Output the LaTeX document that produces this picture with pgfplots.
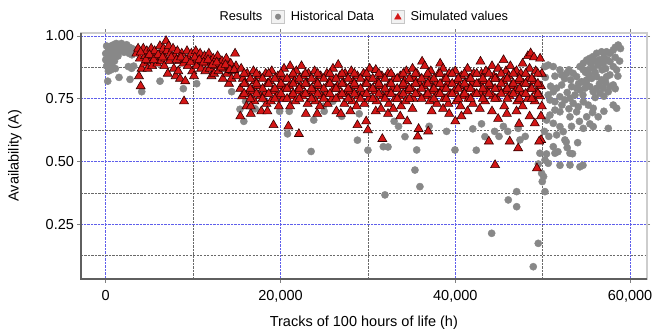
\documentclass[border=0pt]{standalone}
\usepackage{fontspec}
\setmainfont{Liberation Sans}
\usepackage{pgfplots}
\pgfplotsset{compat=1.18}

\definecolor{histgray}{RGB}{136,136,136}
\definecolor{simred}{RGB}{212,22,22}
\definecolor{simedge}{RGB}{50,0,0}
\definecolor{majgrid}{RGB}{95,95,235}
\definecolor{mingrid}{RGB}{105,105,105}
\definecolor{frameD}{RGB}{95,95,95}
\definecolor{frameL}{RGB}{205,205,205}

\begin{document}
\begin{tikzpicture}
\useasboundingbox (-81pt,-54pt) rectangle (571pt,279pt);
\begin{axis}[
  at={(0pt,0pt)}, anchor=south west,
  scale only axis, width=565.7pt, height=246.3pt,
  xmin=-2830, xmax=61900, ymin=0.032, ymax=1.013,
  scaled x ticks=false, scaled y ticks=false,
  xtick={0,20000,40000,60000},
  xticklabels={0,{20,000},{40,000},{60,000}},
  ytick={0.25,0.5,0.75,1},
  yticklabels={0.25,0.50,0.75,1.00},
  minor xtick={10000,30000,50000},
  minor ytick={0.125,0.375,0.625,0.875},
  grid=both,
  major grid style={draw=majgrid, densely dotted, line width=0.8pt},
  minor grid style={draw=mingrid, dash pattern=on 2.2pt off 1.3pt, line width=0.6pt},
  tick align=outside, major tick length=3.5pt, minor tick length=0pt,
  major tick style={draw=gray, line width=0.8pt},
  axis line style={draw=frameL, line width=1.6pt},
  ticklabel style={font=\fontsize{14.5}{16}\selectfont},
  xticklabel style={yshift=-4pt},
  every axis x label/.style={at={(axis description cs:0.5,-0.1786)}, anchor=center,
    font=\fontsize{14.5}{16}\selectfont},
  every axis y label/.style={at={(axis description cs:-0.1167,0.5)}, anchor=center, rotate=90,
    font=\fontsize{14.5}{16}\selectfont},
  xlabel={Tracks of 100 hours of life (h)},
  ylabel={Availability (A)},
  clip mode=individual,
  legend columns=-1,
  legend style={at={(0.5,1)}, anchor=south, xshift=-3pt, yshift=9pt, draw=none, fill=none,
    font=\fontsize{12.8}{14}\selectfont, inner sep=0pt,
    nodes={inner sep=0pt},
    /tikz/every odd column/.append style={column sep=6pt},
    /tikz/every even column/.append style={column sep=9pt}},
]

\addlegendimage{empty legend}
\addlegendentry{Results}
\addlegendimage{legend image code/.code={%
    \draw[draw=gray!45, fill=gray!10, line width=0.6pt] (0pt,-6.5pt) rectangle (13pt,6.5pt);
    \draw[histgray, mark=*, mark size=2.8pt, mark options={draw=histgray, fill=histgray}]
      plot coordinates {(6.5pt,0pt)};}}
\addlegendentry{Historical Data\kern8pt}
\addlegendimage{legend image code/.code={%
    \draw[draw=gray!45, fill=gray!10, line width=0.6pt] (0pt,-6.5pt) rectangle (13pt,6.5pt);
    \draw[simred, mark=triangle*, mark size=3.8pt, mark options={draw=simred, fill=simred}]
      plot coordinates {(6.5pt,-0.5pt)};}}
\addlegendentry{Simulated values}

% Historical data
\addplot[forget plot, only marks, mark=*, mark size=3.6pt, histgray,
  mark options={draw=histgray, fill=histgray}]
coordinates {
(100,0.96)(300,0.95)(600,0.96)(900,0.965)(1200,0.97)(1500,0.965)(1800,0.97)(2100,0.96)
(2400,0.965)(2700,0.955)(3000,0.95)(3300,0.945)(3600,0.94)
(0,0.93)(300,0.925)(600,0.935)(900,0.94)(1200,0.945)(1500,0.94)(1800,0.945)(2100,0.935)
(2400,0.94)(2700,0.93)(3000,0.925)
(0,0.905)(250,0.895)(500,0.91)(800,0.915)(1100,0.92)(1400,0.92)
(100,0.88)(400,0.875)(700,0.89)(1000,0.9)(300,0.86)(600,0.865)(1100,0.87)
(2590,0.878)(2970,0.871)(3200,0.88)
(230,0.82)(1520,0.835)(2780,0.827)(4120,0.778)(6210,0.82)(8880,0.79)
(10410,0.81)(14410,0.778)(15360,0.708)(16600,0.72)(17100,0.71)(15800,0.66)
(16000,0.74)(18000,0.75)(19900,0.70)(20800,0.61)(21000,0.70)(23500,0.54)(23800,0.665)
(24900,0.72)(25000,0.70)(26000,0.74)(27000,0.68)(28800,0.585)(29000,0.69)(30000,0.545)
(31760,0.559)(31950,0.367)(32300,0.558)(33000,0.66)(33500,0.64)(34240,0.599)
(35380,0.466)(35950,0.40)(35580,0.546)(37000,0.64)(39000,0.62)(39960,0.546)
(42000,0.63)(42400,0.545)(43390,0.599)(43000,0.65)(44500,0.62)(45000,0.60)(45500,0.64)
(46000,0.62)(47400,0.586)(47200,0.632)(48000,0.60)
(44160,0.214)(46060,0.347)(47020,0.320)(47020,0.380)(49490,0.174)(48920,0.081)
(49880,0.453)(49680,0.533)(49950,0.420)(50260,0.380)(50100,0.44)(49500,0.49)
(50630,0.493)(50260,0.506)(53120,0.486)(54260,0.479)(51740,0.539)(52690,0.578)
(53410,0.531)(54610,0.485)(51980,0.485)(50430,0.53)
(58640,0.964)(58070,0.944)(57690,0.931)(57310,0.937)(56740,0.937)(56170,0.931)
(55780,0.918)(55400,0.911)(55030,0.904)(54640,0.891)(54260,0.878)(54640,0.865)
(55210,0.865)(55780,0.871)(56350,0.884)(56930,0.891)(57690,0.898)(58070,0.878)
(58460,0.865)(57690,0.845)(57310,0.838)(56740,0.825)(56170,0.838)(55600,0.831)
(55030,0.825)(54450,0.818)(53880,0.838)(53490,0.851)(52740,0.851)(52170,0.845)
(51970,0.865)(51210,0.878)(50630,0.884)(50260,0.878)
(53310,0.798)(53880,0.792)(54260,0.785)(54830,0.792)(55400,0.798)(56170,0.792)
(56930,0.792)(57690,0.798)(58070,0.805)(57500,0.778)(56550,0.772)(55780,0.778)
(52170,0.805)(51590,0.792)(51210,0.778)(50630,0.765)(50830,0.745)(51400,0.738)
(51970,0.758)(52540,0.745)(53120,0.752)(53490,0.732)(54070,0.718)(54640,0.738)
(55210,0.725)(55780,0.712)(58070,0.725)(58460,0.712)
(51400,0.705)(51970,0.698)(53120,0.678)(53880,0.698)(55030,0.678)(56350,0.678)
(50830,0.685)(50450,0.665)(51210,0.652)(51970,0.639)(52350,0.619)(54640,0.632)
(55780,0.639)(57500,0.632)
(51590,0.606)(52540,0.586)(51210,0.559)(53120,0.533)(51400,0.533)
(58900,0.950)(58300,0.955)(57000,0.915)(56500,0.905)(57400,0.905)(58300,0.915)
(58800,0.900)(56000,0.900)(55500,0.890)(56800,0.865)(57200,0.870)(55300,0.845)
(54900,0.855)(56000,0.855)(58600,0.840)(53000,0.865)(52500,0.830)(53200,0.825)
(54100,0.810)(55000,0.810)(56500,0.810)(57200,0.815)(58300,0.790)(52800,0.775)
(53700,0.765)(54600,0.765)(56000,0.755)(57000,0.760)(52200,0.725)(53000,0.710)
(55700,0.695)(57000,0.700)(54200,0.660)(55400,0.650)(53300,0.640)(50200,0.620)
(50700,0.600)(52800,0.555)(54000,0.575)(50900,0.800)(50300,0.835)(51400,0.840)
};

% Simulated values
\addplot[forget plot, only marks, mark=triangle*, mark size=5.2pt, simred,
  mark options={draw=simedge, fill=simred, line width=0.6pt}]
coordinates {
(3500,0.93)(3700,0.95)(3900,0.91)(3800,0.84)(4000,0.80)(4100,0.87)
(4300,0.95)(4500,0.92)(4400,0.89)(4700,0.94)(4900,0.90)(4800,0.87)
(5200,0.95)(5400,0.92)(5300,0.88)(5600,0.94)(5800,0.91)(5900,0.89)
(6200,0.96)(6400,0.93)(6300,0.90)(6600,0.95)(6900,0.98)(7000,0.94)(6800,0.91)(6700,0.88)
(7200,0.96)(7400,0.93)(7300,0.90)(7100,0.85)
(7700,0.95)(7900,0.92)(7800,0.87)(8000,0.84)(8200,0.94)(8400,0.90)(8300,0.86)(8500,0.83)
(8700,0.93)(8900,0.89)(8960,0.74)(9100,0.82)
(9300,0.94)(9500,0.91)(9400,0.88)(9800,0.93)(10000,0.90)(9900,0.86)(10100,0.84)
(10300,0.94)(10500,0.91)(10400,0.88)(10800,0.93)(11000,0.90)(10900,0.87)
(11300,0.92)(11500,0.89)(11400,0.86)(11800,0.93)(12000,0.90)(11900,0.87)(12100,0.84)
(12300,0.91)(12500,0.88)(12400,0.85)(12800,0.92)(13000,0.89)(12900,0.86)
(13300,0.90)(13500,0.87)(13400,0.83)(13800,0.91)(14000,0.88)(13900,0.85)(14100,0.81)
(14300,0.89)(14500,0.86)(14400,0.83)(14800,0.93)(14900,0.88)(15000,0.84)
(4000,0.935)(4600,0.905)(5000,0.925)(5500,0.905)(6000,0.925)(6500,0.915)(7500,0.915)
(8100,0.905)(8600,0.915)(9200,0.905)(9700,0.895)(10200,0.915)(10700,0.905)(11200,0.895)
(11700,0.905)(12200,0.885)(12700,0.895)(13200,0.875)(13700,0.885)(14200,0.865)(14700,0.865)
(15500,0.87)(15700,0.83)(15400,0.79)(15600,0.76)(15400,0.68)
(16200,0.85)(16000,0.81)(16300,0.77)(16100,0.72)(16600,0.69)
(16900,0.86)(17100,0.82)(16800,0.78)(17000,0.74)(16600,0.72)
(17600,0.84)(17400,0.80)(17700,0.76)(17800,0.70)
(18300,0.85)(18500,0.81)(18200,0.77)(18400,0.73)(18500,0.70)
(19000,0.86)(18800,0.82)(19100,0.78)(18900,0.74)(19200,0.645)
(19700,0.84)(19900,0.80)(19600,0.76)(19800,0.72)
(20400,0.87)(20200,0.83)(20500,0.79)(20300,0.75)(20900,0.64)
(21100,0.88)(21300,0.84)(21000,0.80)(21200,0.76)(21100,0.72)
(21800,0.86)(21600,0.82)(21900,0.78)(21700,0.74)(22100,0.61)
(22400,0.88)(22600,0.84)(22300,0.80)(22500,0.76)
(23200,0.85)(23000,0.81)(23300,0.77)(23100,0.73)(22900,0.69)
(23900,0.86)(24100,0.82)(23800,0.78)(24000,0.74)(24200,0.69)
(24600,0.84)(24400,0.80)(24700,0.76)(24500,0.72)
(25300,0.85)(25500,0.81)(25200,0.77)(25400,0.73)
(26000,0.87)(25800,0.83)(26100,0.79)(25900,0.75)(26400,0.70)
(26600,0.885)(26800,0.84)(26500,0.80)(26700,0.76)(26900,0.69)
(27400,0.85)(27200,0.81)(27500,0.77)(27300,0.73)
(28100,0.86)(28300,0.82)(28000,0.78)(28200,0.74)(28000,0.70)
(28800,0.84)(28600,0.80)(28900,0.76)(28700,0.72)(28800,0.645)
(29500,0.85)(29700,0.81)(29400,0.77)(29600,0.73)(29800,0.66)
(30200,0.87)(30000,0.83)(30300,0.79)(30100,0.75)(30000,0.625)
(30900,0.865)(31100,0.82)(30800,0.78)(31000,0.74)(30900,0.70)
(31600,0.84)(31400,0.80)(31700,0.76)(31500,0.71)(31650,0.59)
(32300,0.85)(32500,0.81)(32200,0.77)(32400,0.73)(32300,0.69)
(33000,0.83)(32800,0.79)(33100,0.75)(32900,0.71)
(33700,0.84)(33900,0.80)(33600,0.76)(33800,0.72)(33700,0.68)
(34400,0.86)(34200,0.82)(34500,0.78)(34300,0.74)(34500,0.66)
(35100,0.87)(35300,0.83)(35000,0.79)(35200,0.75)(35100,0.71)
(36200,0.898)(35600,0.85)(35900,0.81)(35700,0.77)(35700,0.60)(35800,0.63)
(36500,0.88)(36700,0.84)(36400,0.80)(36600,0.76)(36900,0.62)
(37200,0.86)(37000,0.82)(37300,0.78)(37100,0.74)(37300,0.70)
(38270,0.89)(38100,0.85)(37800,0.81)(38000,0.77)(37900,0.73)
(38600,0.87)(38800,0.83)(38500,0.79)(38700,0.75)(38600,0.71)
(39300,0.85)(39100,0.81)(39400,0.77)(39200,0.73)(39300,0.69)
(40000,0.86)(40200,0.82)(39900,0.78)(40100,0.74)(40000,0.66)
(40700,0.84)(40500,0.80)(40800,0.76)(40600,0.72)(40700,0.68)
(41400,0.87)(41600,0.83)(41300,0.79)(41500,0.75)(41400,0.70)
(42100,0.85)(41900,0.81)(42200,0.77)(42000,0.73)
(42880,0.898)(43000,0.85)(42700,0.81)(42900,0.77)(42800,0.71)
(43500,0.86)(43300,0.82)(43600,0.78)(43400,0.74)(43840,0.58)
(44200,0.88)(44400,0.84)(44100,0.80)(44300,0.76)(44200,0.70)(44550,0.486)
(44900,0.87)(44700,0.83)(45000,0.79)(44800,0.75)(44900,0.67)
(45520,0.904)(45800,0.86)(45500,0.82)(45700,0.78)(45600,0.72)(45900,0.69)
(46300,0.88)(46100,0.84)(46400,0.80)(46200,0.76)(46230,0.58)
(47000,0.86)(47200,0.82)(46900,0.78)(47100,0.74)(47000,0.70)(47190,0.553)(47300,0.65)
(47700,0.89)(47500,0.85)(47800,0.81)(47600,0.77)(47700,0.72)
(48300,0.92)(48620,0.931)(48500,0.87)(48400,0.83)(48600,0.79)(48300,0.75)(48500,0.68)
(49000,0.915)(49200,0.86)(49000,0.82)(49300,0.78)(49100,0.74)(49100,0.652)(49340,0.473)
(49700,0.91)(49900,0.85)(49800,0.80)(49700,0.76)(49900,0.72)(49800,0.68)(49820,0.586)(49600,0.58)
(15850,0.85)(15850,0.81)(15850,0.77)(16550,0.83)(16550,0.79)(16550,0.75)
(17250,0.85)(17250,0.81)(17250,0.77)(17950,0.83)(17950,0.79)(17950,0.75)
(18650,0.85)(18650,0.81)(18650,0.77)(19350,0.83)(19350,0.79)(19350,0.75)
(20050,0.85)(20050,0.81)(20050,0.77)(20750,0.83)(20750,0.79)(20750,0.75)
(21450,0.85)(21450,0.81)(21450,0.77)(22150,0.83)(22150,0.79)(22150,0.75)
(22850,0.85)(22850,0.81)(22850,0.77)(23550,0.83)(23550,0.79)(23550,0.75)
(24250,0.85)(24250,0.81)(24250,0.77)(24950,0.83)(24950,0.79)(24950,0.75)
(25650,0.85)(25650,0.81)(25650,0.77)(26350,0.83)(26350,0.79)(26350,0.75)
(27050,0.85)(27050,0.81)(27050,0.77)(27750,0.83)(27750,0.79)(27750,0.75)
(28450,0.85)(28450,0.81)(28450,0.77)(29150,0.83)(29150,0.79)(29150,0.75)
(29850,0.85)(29850,0.81)(29850,0.77)(30550,0.83)(30550,0.79)(30550,0.75)
(31250,0.85)(31250,0.81)(31250,0.77)(31950,0.83)(31950,0.79)(31950,0.75)
(32650,0.85)(32650,0.81)(32650,0.77)(33350,0.83)(33350,0.79)(33350,0.75)
(34050,0.85)(34050,0.81)(34050,0.77)(34750,0.83)(34750,0.79)(34750,0.75)
(35450,0.85)(35450,0.81)(35450,0.77)(36150,0.83)(36150,0.79)(36150,0.75)
(36850,0.85)(36850,0.81)(36850,0.77)(37550,0.83)(37550,0.79)(37550,0.75)
(38250,0.85)(38250,0.81)(38250,0.77)(38950,0.83)(38950,0.79)(38950,0.75)
(39650,0.85)(39650,0.81)(39650,0.77)(40350,0.83)(40350,0.79)(40350,0.75)
(41050,0.85)(41050,0.81)(41050,0.77)(41750,0.83)(41750,0.79)(41750,0.75)
(42450,0.85)(42450,0.81)(42450,0.77)(43150,0.83)(43150,0.79)(43150,0.75)
(43850,0.85)(43850,0.81)(43850,0.77)(44550,0.83)(44550,0.79)(44550,0.75)
(45250,0.85)(45250,0.81)(45250,0.77)(45950,0.83)(45950,0.79)(45950,0.75)
(46650,0.85)(46650,0.81)(46650,0.77)(47350,0.83)(47350,0.79)(47350,0.75)
(48050,0.85)(48050,0.81)(48050,0.77)(48750,0.83)(48750,0.79)(48750,0.75)
(49450,0.85)(49450,0.81)(49450,0.77)
};

% darker left and bottom frame edges
\draw[frameD, line width=1.3pt] (rel axis cs:0,1) -- (rel axis cs:0,0) -- (rel axis cs:1,0);
\end{axis}
\end{tikzpicture}
\end{document}
